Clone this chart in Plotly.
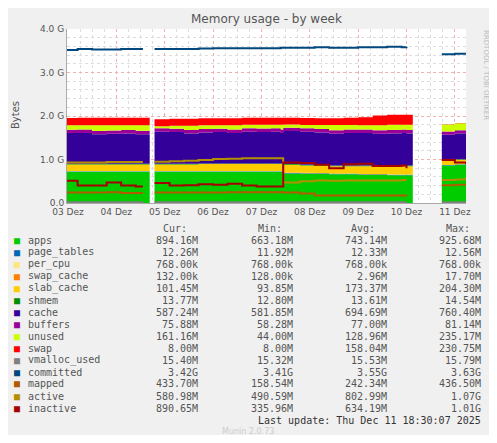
import plotly.graph_objects as go

# time in days of December (label "03 Dez" sits at 3.0)
t = [2.98, 3.2, 3.5, 3.8, 4.1, 4.4, 4.55, 4.69,
     4.79, 5.1, 5.4, 5.7, 6.0, 6.3, 6.6, 6.9, 7.2, 7.4, 7.45, 7.8, 8.1, 8.4, 8.7, 9.0, 9.3, 9.6, 9.9, 10.0, 10.13,
     10.73, 11.0, 11.23]
N = None
# stacked series, in GB
apps = [.72, .72, .72, .72, .72, .72, .72, N,
        .72, .72, .72, .72, .72, .72, .72, .72, .72, .72, .68, .67, .67, .66, .66, .65, .65, .64, .64, .64, N,
        .86, .88, .89]
page_tables = [.012 if v is not None else N for v in apps]
per_cpu = [.00077 if v is not None else N for v in apps]
swap_cache = [.003, .003, .003, .003, .003, .003, .003, N,
              .003, .003, .003, .003, .003, .003, .003, .003, .003, .003, .017, .01, .005, .004, .004, .003, .003, .003, .003, .003, N,
              .0001, .0001, .0001]
slab_cache = [.15, .15, .15, .15, .15, .15, .15, N,
              .15, .15, .15, .16, .16, .16, .16, .16, .16, .16, .17, .17, .17, .17, .17, .18, .18, .19, .19, .19, N,
              .10, .10, .10]
shmem = [.014 if v is not None else N for v in apps]
cache = [.71, .71, .68, .69, .70, .68, .68, N,
         .74, .73, .70, .71, .72, .70, .73, .72, .73, .70, .76, .76, .75, .73, .75, .75, .73, .74, .75, .74, N,
         .58, .59, .59]
buffers = [.077, .078, .078, .079, .079, .079, .079, N,
           .077, .078, .078, .079, .080, .080, .081, .081, .081, .081, .078, .079, .079, .080, .080, .080, .080, .080, .081, .081, N,
           .076, .076, .076]
unused = [.10, .10, .13, .12, .11, .13, .13, N,
          .05, .07, .10, .09, .08, .10, .08, .09, .08, .11, .07, .08, .09, .12, .10, .10, .12, .12, .11, .12, N,
          .16, .16, .16]
swap = [.17, .17, .17, .17, .17, .17, .17, N,
        .16, .16, .16, .16, .16, .16, .16, .16, .16, .16, .16, .16, .16, .16, .17, .18, .22, .23, .23, .23, N,
        .008, .008, .008]
# line series, in GB
vmalloc = [.0155 if v is not None else N for v in apps]
committed = [3.52, 3.54, 3.53, 3.53, 3.54, 3.54, 3.54, N,
             3.54, 3.54, 3.54, 3.55, 3.56, 3.56, 3.56, 3.56, 3.56, 3.57, 3.57, 3.57, 3.58, 3.57, 3.57, 3.58, 3.58, 3.59, 3.58, 3.59, N,
             3.42, 3.43, 3.42]
mapped = [.24, .24, .24, .25, .23, .23, .23, N,
          .24, .24, .24, .24, .24, .25, .25, .25, .25, .25, .24, .22, .17, .17, .17, .17, .17, .17, .17, .18, N,
          .41, .42, .43]
active = [.93, .93, .93, .94, .94, .94, .94, N,
          .95, .96, .97, .99, 1.01, 1.02, 1.03, 1.03, 1.03, 1.03, .47, .50, .52, .51, .52, .52, .52, .52, .53, .53, N,
          .53, .54, .58]
inactive = [.51, .40, .40, .47, .40, .38, .38, N,
            .46, .40, .41, .43, .42, .44, .40, .38, .38, .38, .93, .92, .88, .80, .89, .90, .85, .85, .86, .80, N,
            .99, .93, .89]

stack = [("apps", apps, "#00CC00"), ("page_tables", page_tables, "#0066B3"),
         ("per_cpu", per_cpu, "#FFE680"), ("swap_cache", swap_cache, "#FF8000"),
         ("slab_cache", slab_cache, "#FFCC00"), ("shmem", shmem, "#008F00"),
         ("cache", cache, "#330099"), ("buffers", buffers, "#990099"),
         ("unused", unused, "#CCFF00"), ("swap", swap, "#FF0000")]
lines = [("vmalloc_used", vmalloc, "#808080"), ("committed", committed, "#00487D"),
         ("mapped", mapped, "#B35A00"), ("active", active, "#B38F00"),
         ("inactive", inactive, "#A50000")]

names = ["apps", "page_tables", "per_cpu", "swap_cache", "slab_cache", "shmem", "cache", "buffers",
         "unused", "swap", "vmalloc_used", "committed", "mapped", "active", "inactive"]
cur = ["894.16M", "12.26M", "768.00k", "132.00k", "101.45M", "13.77M", "587.24M", "75.88M",
       "161.16M", "8.00M", "15.40M", "3.42G", "433.70M", "580.98M", "890.65M"]
mins = ["663.18M", "11.92M", "768.00k", "128.00k", "93.85M", "12.80M", "581.85M", "58.28M",
        "44.00M", "8.00M", "15.32M", "3.41G", "158.54M", "490.59M", "335.96M"]
avgs = ["743.14M", "12.33M", "768.00k", "2.96M", "173.37M", "13.61M", "694.69M", "77.00M",
        "128.96M", "158.04M", "15.53M", "3.55G", "242.34M", "802.99M", "634.19M"]
maxs = ["925.68M", "12.56M", "768.00k", "17.70M", "204.30M", "14.54M", "760.40M", "81.14M",
        "235.17M", "230.75M", "15.79M", "3.63G", "436.50M", "1.07G", "1.01G"]
colors = {n: c for n, _, c in stack + lines}

fig = go.Figure()
for name, vals, col in stack:
    fig.add_trace(go.Scatter(x=t, y=[0 if v is None else v for v in vals], name=name, mode="lines",
                             stackgroup="s", line=dict(width=0, shape="hv", color=col), fillcolor=col))
for name, vals, col in lines:
    fig.add_trace(go.Scatter(x=t, y=vals, name=name, mode="lines",
                             line=dict(width=2, shape="hv", color=col), connectgaps=False))

# page body has an 8px margin, so the figure is drawn 8px in from the corner
OFF = 8
W, H = 497 - 2 * OFF, 443 - 2 * OFF
L, R, T, B = 67, 466, 29, 203
def px(x):
    return (x - L) / (R - L)
def py(y):
    return (B - y) / (B - T)

mono = "DejaVu Sans Mono"
ann = []
def txt(x, y, s, anchor="left", color="#333333", size=10, fam=mono, angle=0):
    ann.append(dict(x=px(x), y=py(y), xref="paper", yref="paper", text=s, showarrow=False,
                    xanchor=anchor, yanchor="middle", font=dict(family=fam, size=size, color=color),
                    textangle=angle))

txt(266, 19, "Memory usage - by week", "center", "#555555", 12, "DejaVu Sans")
txt(16, 115, "Bytes", "center", "#555555", 10, "DejaVu Sans", -90)
txt(486, 75, "RRDTOOL / TOBI OETIKER", "center", "#BBBBBB", 7, "DejaVu Sans", 90)
for hx, h in [(175, "Cur:"), (270, "Min:"), (363, "Avg:"), (458, "Max:")]:
    txt(hx, 228, h, "center", "#555555")
for i, n in enumerate(names):
    y = 240 + i * 12
    txt(17, y, "■", "center", colors[n], 10)
    txt(26, y, n, "left", "#555555")
    txt(200, y, cur[i], "right", "#555555")
    txt(295, y, mins[i], "right", "#555555")
    txt(389, y, avgs[i], "right", "#555555")
    txt(483, y, maxs[i], "right", "#555555")
txt(483, 420, "Last update: Thu Dec 11 18:30:07 2025", "right", "#333333")
txt(248, 431, "Munin 2.0.73", "center", "#CCCCCC", 8, "DejaVu Sans")

fig.update_layout(
    width=W, height=H, autosize=False,
    margin=dict(l=L - OFF, r=497 - OFF - R, t=T - OFF, b=443 - OFF - B),
    paper_bgcolor="#F0F0F0", plot_bgcolor="white",
    showlegend=False, annotations=ann,
)
fig.update_xaxes(range=[2.98, 11.23], tickvals=list(range(3, 12)),
                 ticktext=["%02d Dez" % d for d in range(3, 12)],
                 showgrid=True, gridcolor="#F0B0B0", griddash="dot",
                 minor=dict(dtick=0.25, showgrid=True, gridcolor="#DDDDDD", griddash="dot"),
                 tickfont=dict(family="DejaVu Sans", size=9, color="#555555"),
                 ticks="", zeroline=False, showline=True, linecolor="#AAAAAA")
fig.update_yaxes(range=[0, 4.0], tickvals=[0, 1, 2, 3, 4],
                 ticktext=["0.0", "1.0 G", "2.0 G", "3.0 G", "4.0 G"],
                 showgrid=True, gridcolor="#F0B0B0", griddash="dot",
                 minor=dict(dtick=0.2, showgrid=True, gridcolor="#DDDDDD", griddash="dot"),
                 tickfont=dict(family="DejaVu Sans", size=9, color="#555555"),
                 ticks="", zeroline=False, showline=True, linecolor="#AAAAAA")

fig.write_html("out.html")
